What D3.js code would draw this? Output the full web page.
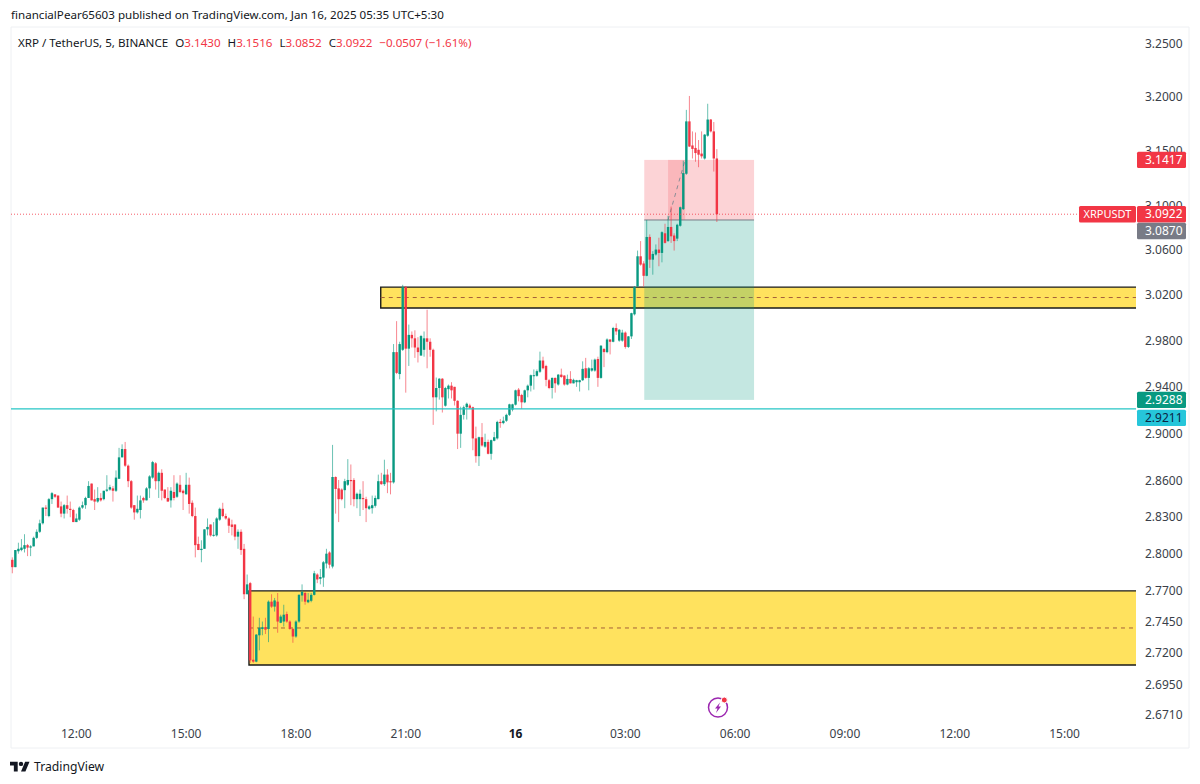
<!DOCTYPE html>
<html>
<head>
<meta charset="utf-8">
<script src="https://cdn.jsdelivr.net/npm/d3@7"></script>
<style>
  html, body { margin: 0; padding: 0; background: #fff; }
  svg { display: block; font-family: "Noto Sans", sans-serif; }
</style>
</head>
<body>
<svg width="1200" height="784"></svg>
<script>
// 5 minute bars, first one is Jan 15 10:15 (UTC+5:30 shown as is)
const firstBar = "2025-01-15T10:15:00";

const opens = [
  2.795,2.789,2.802,2.803,2.804,2.807,2.805,2.806,2.813,2.818,2.825,2.838,2.831,2.845,2.849,2.848,2.839,2.833,2.840,2.837,
  2.836,2.826,2.828,2.838,2.840,2.846,2.858,2.845,2.843,2.846,2.845,2.852,2.853,2.854,2.852,2.862,2.880,2.887,2.873,2.860,
  2.840,2.834,2.836,2.846,2.844,2.854,2.863,2.875,2.860,2.867,2.853,2.846,2.844,2.851,2.847,2.857,2.852,2.849,2.857,2.842,
  2.831,2.808,2.803,2.804,2.820,2.824,2.815,2.815,2.828,2.837,2.831,2.829,2.824,2.824,2.814,2.818,2.804,2.767,2.776,2.7145,
  2.713,2.734,2.739,2.7405,2.739,2.761,2.757,2.761,2.744,2.745,2.751,2.745,2.739,2.733,2.745,2.766,2.768,2.7605,2.7617,2.7665,
  2.783,2.7795,2.7805,2.792,2.801,2.7895,2.8635,2.854,2.853,2.8525,2.857,2.861,2.861,2.845,2.845,2.846,2.845,2.837,2.8375,2.8395,
  2.845,2.860,2.8575,2.8655,2.860,2.859,2.970,2.951,2.972,3.027,2.973,2.985,2.982,2.974,2.967,2.972,2.982,2.979,2.972,2.931,
  2.939,2.947,2.9238,2.938,2.941,2.940,2.928,2.900,2.916,2.9225,2.924,2.9225,2.896,2.881,2.897,2.889,2.893,2.883,2.894,2.896,
  2.910,2.909,2.911,2.916,2.9205,2.9247,2.9376,2.933,2.9267,2.937,2.941,2.9495,2.9495,2.953,2.9627,2.958,2.9457,2.939,2.9477,2.942,
  2.9505,2.9497,2.942,2.9468,2.943,2.944,2.944,2.9457,2.956,2.9477,2.954,2.954,2.964,2.9477,2.9727,2.970,2.981,2.979,2.991,2.980,
  2.980,2.987,2.9745,2.9837,3.003,3.0276,3.0544,3.048,3.037,3.0717,3.0514,3.056,3.0604,3.0574,3.075,3.068,3.0807,3.073,3.0702,3.0818,
  3.0968,3.129,3.1773,3.155,3.1527,3.151,3.1475,3.143,3.164,3.179,3.168,3.143
];
const highs = [
  2.797,2.803,2.809,2.812,2.816,2.808,2.807,2.814,2.820,2.828,2.838,2.840,2.846,2.851,2.849,2.848,2.843,2.841,2.848,2.843,
  2.837,2.833,2.839,2.843,2.847,2.860,2.858,2.853,2.855,2.850,2.852,2.865,2.857,2.856,2.869,2.888,2.891,2.893,2.874,2.861,
  2.840,2.848,2.848,2.847,2.855,2.865,2.877,2.876,2.868,2.870,2.853,2.855,2.855,2.865,2.859,2.865,2.853,2.867,2.863,2.844,
  2.838,2.814,2.811,2.820,2.829,2.824,2.826,2.830,2.838,2.842,2.833,2.830,2.828,2.824,2.820,2.820,2.808,2.783,2.777,2.749,
  2.735,2.748,2.745,2.748,2.762,2.767,2.764,2.768,2.7505,2.7585,2.753,2.746,2.7398,2.746,2.767,2.775,2.769,2.768,2.768,2.786,
  2.784,2.7875,2.794,2.804,2.802,2.8905,2.864,2.861,2.854,2.862,2.8785,2.874,2.8625,2.8505,2.853,2.860,2.847,2.840,2.848,2.848,
  2.8655,2.867,2.878,2.870,2.867,2.977,2.997,2.979,3.029,3.028,2.994,2.988,2.989,2.983,2.985,2.988,3.007,2.982,2.973,2.948,
  2.9475,2.9475,2.940,2.942,2.944,2.940,2.9285,2.923,2.924,2.9265,2.9255,2.923,2.906,2.8975,2.909,2.900,2.895,2.895,2.9015,2.911,
  2.9125,2.9145,2.917,2.9255,2.9255,2.9376,2.939,2.934,2.9376,2.942,2.9506,2.955,2.955,2.9704,2.966,2.959,2.9468,2.948,2.948,2.951,
  2.9557,2.950,2.9505,2.9535,2.947,2.946,2.946,2.962,2.965,2.957,2.9635,2.9644,2.966,2.976,2.9736,2.982,2.981,2.992,2.995,2.990,
  2.9895,2.988,2.984,3.0044,3.028,3.0595,3.068,3.05,3.087,3.074,3.059,3.065,3.071,3.0768,3.0836,3.0908,3.0991,3.075,3.0836,3.0991,
  3.141,3.188,3.201,3.168,3.167,3.16,3.168,3.1656,3.1937,3.1795,3.1767,3.1516
];
const lows = [
  2.784,2.789,2.800,2.802,2.801,2.798,2.798,2.806,2.812,2.817,2.824,2.831,2.830,2.841,2.846,2.838,2.830,2.829,2.833,2.830,
  2.826,2.826,2.827,2.837,2.837,2.846,2.844,2.836,2.842,2.843,2.844,2.851,2.852,2.843,2.851,2.862,2.880,2.872,2.855,2.837,
  2.828,2.833,2.829,2.842,2.844,2.846,2.862,2.853,2.846,2.844,2.845,2.843,2.838,2.844,2.846,2.850,2.836,2.849,2.833,2.830,
  2.797,2.803,2.793,2.804,2.815,2.814,2.814,2.814,2.827,2.830,2.828,2.817,2.815,2.811,2.804,2.799,2.763,2.767,2.712,2.712,
  2.7125,2.722,2.734,2.735,2.7285,2.756,2.753,2.736,2.7437,2.741,2.744,2.7385,2.728,2.732,2.744,2.761,2.7585,2.7598,2.7605,2.766,
  2.776,2.775,2.773,2.788,2.788,2.788,2.833,2.826,2.844,2.8375,2.856,2.840,2.839,2.8375,2.831,2.836,2.826,2.836,2.833,2.838,
  2.845,2.857,2.856,2.850,2.849,2.858,2.951,2.9465,2.971,2.935,2.958,2.974,2.965,2.961,2.967,2.966,2.956,2.966,2.9075,2.919,
  2.929,2.918,2.923,2.930,2.930,2.924,2.887,2.888,2.912,2.912,2.921,2.886,2.8755,2.8727,2.889,2.888,2.8825,2.878,2.8935,2.895,
  2.905,2.908,2.910,2.915,2.919,2.924,2.9275,2.921,2.926,2.931,2.936,2.9376,2.9487,2.952,2.955,2.9405,2.938,2.930,2.935,2.941,
  2.9477,2.941,2.9413,2.943,2.943,2.940,2.936,2.945,2.947,2.937,2.953,2.953,2.940,2.947,2.957,2.969,2.968,2.9785,2.985,2.979,
  2.979,2.973,2.9736,2.9814,3.002,3.027,3.046,3.0276,3.0366,3.044,3.038,3.055,3.0455,3.049,3.0658,3.0673,3.0664,3.0595,3.068,3.081,
  3.096,3.128,3.1536,3.143,3.14,3.135,3.143,3.142,3.163,3.167,3.131,3.0852
];
const closes = [
  2.789,2.803,2.804,2.805,2.807,2.805,2.806,2.813,2.818,2.825,2.838,2.837,2.845,2.850,2.847,2.838,2.833,2.840,2.837,2.836,
  2.826,2.829,2.838,2.840,2.846,2.856,2.844,2.843,2.846,2.844,2.852,2.853,2.855,2.852,2.863,2.880,2.887,2.873,2.860,2.838,
  2.834,2.837,2.844,2.844,2.854,2.864,2.876,2.860,2.867,2.852,2.846,2.843,2.852,2.846,2.858,2.851,2.850,2.857,2.841,2.831,
  2.807,2.803,2.804,2.820,2.822,2.815,2.8155,2.829,2.837,2.831,2.829,2.823,2.822,2.814,2.818,2.803,2.767,2.775,2.714,2.713,
  2.7345,2.740,2.7405,2.7385,2.761,2.757,2.762,2.745,2.749,2.7505,2.745,2.739,2.733,2.745,2.7665,2.769,2.761,2.7625,2.7665,2.784,
  2.779,2.781,2.793,2.800,2.791,2.8635,2.8535,2.845,2.845,2.860,2.861,2.860,2.845,2.8495,2.8495,2.845,2.8375,2.839,2.840,2.846,
  2.860,2.8575,2.8655,2.859,2.859,2.970,2.952,2.977,3.027,2.973,2.985,2.982,2.974,2.970,2.984,2.982,2.979,2.972,2.931,2.939,
  2.947,2.931,2.939,2.941,2.937,2.928,2.900,2.916,2.9225,2.9255,2.922,2.896,2.881,2.897,2.890,2.893,2.883,2.8945,2.897,2.910,
  2.909,2.911,2.916,2.925,2.925,2.937,2.932,2.9267,2.937,2.941,2.950,2.950,2.9535,2.9627,2.956,2.946,2.939,2.9477,2.943,2.9505,
  2.9485,2.942,2.9468,2.943,2.946,2.9457,2.9457,2.9555,2.9477,2.956,2.956,2.9635,2.9477,2.9756,2.970,2.981,2.979,2.991,2.988,2.9895,
  2.987,2.9745,2.9837,3.004,3.027,3.0544,3.047,3.037,3.0717,3.0514,3.0565,3.0604,3.0574,3.076,3.0664,3.0807,3.0723,3.068,3.0827,3.0985,
  3.1296,3.1773,3.154,3.1518,3.148,3.1465,3.145,3.165,3.179,3.168,3.143,3.0922
];

const priceTicks = [3.25, 3.2, 3.15, 3.1, 3.06, 3.02, 2.98, 2.94, 2.9, 2.86, 2.83, 2.8, 2.77, 2.745, 2.72, 2.695, 2.671];
const timeTicks = ["2025-01-15T12:00", "2025-01-15T15:00", "2025-01-15T18:00", "2025-01-15T21:00", "2025-01-16T00:00",
  "2025-01-16T03:00", "2025-01-16T06:00", "2025-01-16T09:00", "2025-01-16T12:00", "2025-01-16T15:00"];

// drawn rectangles: [start time, top price, bottom price]
const zoneStarts = ["2025-01-15T20:19", "2025-01-15T16:43"];
const zoneTops = [3.027, 2.7697];
const zoneBottoms = [3.0086, 2.7103];

const positionStart = "2025-01-16T03:31";
const positionEnd = "2025-01-16T06:31";
const activeStart = "2025-01-16T04:10";
const activeEnd = "2025-01-16T04:38";
const stopPrice = 3.1417;
const entryPrice = 3.087;
const targetPrice = 2.9288;
const lastPrice = 3.0922;
const linePrice = 2.9211;

const legendParts = [["XRP / TetherUS, 5, BINANCE", "#131722"], ["O", "#131722"], ["3.1430", "#f23645"], ["H", "#131722"], ["3.1516", "#f23645"],
  ["L", "#131722"], ["3.0852", "#f23645"], ["C", "#131722"], ["3.0922", "#f23645"], ["\u22120.0507 (\u22121.61%)", "#f23645"]];

const GREEN = "#089981", RED = "#f23645";
const svg = d3.select("svg");
const plotLeft = 11, plotRight = 1136, plotTop = 27, plotBottom = 748;

const parse = s => new Date(s);
const barTime = i => new Date(parse(firstBar).getTime() + i * 300000);

// 109.9px per 3h, first bar at x=12.3
const x = d3.scaleTime()
  .domain([parse(firstBar), barTime(231)])
  .range([12.3, 12.3 + 231 * 3.05]);
// the price axis is logarithmic
const y = d3.scaleLog()
  .domain([3.25, 2.671])
  .range([44, 715]);

// frame
svg.append("path")
  .attr("d", `M${plotLeft},${plotTop}V${plotBottom}H1189V${plotTop}H${plotLeft}`)
  .attr("fill", "none").attr("stroke", "#eef0f3");

// zones sit behind the candles
const zones = svg.append("g").selectAll("g")
  .data(zoneStarts.map((s, i) => ({ start: parse(s), top: zoneTops[i], bottom: zoneBottoms[i] })))
  .enter().append("g");
zones.append("rect")
  .attr("x", d => x(d.start))
  .attr("y", d => y(d.top))
  .attr("width", d => plotRight - x(d.start))
  .attr("height", d => y(d.bottom) - y(d.top))
  .attr("fill", "#ffe25e");
zones.append("path")
  .attr("d", d => `M${plotRight},${y(d.top)}H${x(d.start)}V${y(d.bottom)}H${plotRight}`)
  .attr("fill", "none").attr("stroke", "#1a1a1a").attr("stroke-width", 1.4);
zones.append("line")
  .attr("x1", d => x(d.start)).attr("x2", plotRight)
  .attr("y1", d => (y(d.top) + y(d.bottom)) / 2)
  .attr("y2", d => (y(d.top) + y(d.bottom)) / 2)
  .attr("stroke", "#a5603a").attr("stroke-width", 1).attr("stroke-dasharray", "4,4");

// short position box
const pos = svg.append("g");
const px0 = x(parse(positionStart)), px1 = x(parse(positionEnd));
pos.append("rect").attr("x", px0).attr("width", px1 - px0)
  .attr("y", y(stopPrice)).attr("height", y(entryPrice) - y(stopPrice))
  .attr("fill", RED).attr("fill-opacity", 0.22);
pos.append("rect").attr("x", px0).attr("width", px1 - px0)
  .attr("y", y(entryPrice)).attr("height", y(targetPrice) - y(entryPrice))
  .attr("fill", GREEN).attr("fill-opacity", 0.24);
const ax0 = x(parse(activeStart)), ax1 = x(parse(activeEnd));
pos.append("rect").attr("x", ax0).attr("width", ax1 - ax0)
  .attr("y", y(stopPrice)).attr("height", y(entryPrice) - y(stopPrice))
  .attr("fill", RED).attr("fill-opacity", 0.18);
pos.append("line")
  .attr("x1", ax0).attr("y1", y(entryPrice)).attr("x2", ax1).attr("y2", y(stopPrice))
  .attr("stroke", "#8a8d96").attr("stroke-dasharray", "4,4");
pos.append("line")
  .attr("x1", px0).attr("x2", px1).attr("y1", y(entryPrice)).attr("y2", y(entryPrice))
  .attr("stroke", "#787b86").attr("stroke-width", 1);

// candles
const bars = d3.range(opens.length).map(i => ({
  t: barTime(i), o: opens[i], h: highs[i], l: lows[i], c: closes[i]
}));
const candle = svg.append("g").selectAll("g").data(bars).enter().append("g");
candle.append("line")
  .attr("x1", d => x(d.t)).attr("x2", d => x(d.t))
  .attr("y1", d => y(d.h)).attr("y2", d => y(d.l))
  .attr("stroke", d => d.c >= d.o ? GREEN : RED)
  .attr("stroke-width", 1)
  .attr("stroke-opacity", 0.6);
candle.append("rect")
  .attr("x", d => x(d.t) - 1.2)
  .attr("width", 2.4)
  .attr("y", d => y(Math.max(d.o, d.c)))
  .attr("height", d => Math.max(1, Math.abs(y(d.o) - y(d.c))))
  .attr("fill", d => d.c >= d.o ? GREEN : RED);

// price lines
svg.append("line")
  .attr("x1", plotLeft).attr("x2", plotRight)
  .attr("y1", y(linePrice)).attr("y2", y(linePrice))
  .attr("stroke", "#26c6c6").attr("stroke-width", 1.2);
svg.append("line")
  .attr("x1", plotLeft).attr("x2", plotRight)
  .attr("y1", y(lastPrice)).attr("y2", y(lastPrice))
  .attr("stroke", RED).attr("stroke-width", 1).attr("stroke-dasharray", "1,2").attr("stroke-opacity", 0.8);

// price axis
svg.append("g").selectAll("text").data(priceTicks).enter().append("text")
  .attr("x", 1145).attr("y", d => y(d)).attr("dy", "0.35em")
  .attr("font-size", 12).attr("fill", "#3b3f4a")
  .text(d => d3.format(".4f")(d));

// time axis
svg.append("g").selectAll("text").data(timeTicks).enter().append("text")
  .attr("x", d => x(parse(d))).attr("y", 738)
  .attr("text-anchor", "middle").attr("font-size", 12)
  .attr("fill", d => parse(d).getHours() === 0 ? "#131722" : "#3b3f4a")
  .attr("font-weight", d => parse(d).getHours() === 0 ? 700 : 400)
  .text(d => parse(d).getHours() === 0 ? d3.timeFormat("%-d")(parse(d)) : d3.timeFormat("%H:%M")(parse(d)));

// price labels, the two that would collide are pushed down like on the original
const priceLabels = [
  { p: stopPrice, fill: RED, color: "#fff" },
  { p: lastPrice, fill: RED, color: "#fff" },
  { p: entryPrice, fill: "#787b86", color: "#fff", dy: 11 },
  { p: targetPrice, fill: GREEN, color: "#fff" },
  { p: linePrice, fill: "#26c6da", color: "#0b2545", dy: 9 }
];
const labelG = svg.append("g").selectAll("g").data(priceLabels).enter().append("g")
  .attr("transform", d => `translate(1137,${y(d.p) + (d.dy || 0)})`);
labelG.append("rect").attr("x", 0).attr("y", -8.2).attr("width", 49).attr("height", 16.4).attr("rx", 1.5)
  .attr("fill", d => d.fill);
labelG.append("text").attr("x", 8).attr("dy", "0.35em").attr("font-size", 12).attr("fill", d => d.color)
  .text(d => d3.format(".4f")(d.p));

svg.append("rect").attr("x", 1079).attr("y", y(lastPrice) - 8.2).attr("width", 57).attr("height", 16.4).attr("rx", 1.5).attr("fill", RED);
svg.append("text").attr("x", 1107.5).attr("y", y(lastPrice)).attr("dy", "0.35em")
  .attr("text-anchor", "middle").attr("font-size", 11).attr("fill", "#fff").text("XRPUSDT");

// header + legend
svg.append("text").attr("x", 11).attr("y", 19).attr("font-size", 11.6).attr("fill", "#131722")
  .text("financialPear65603 published on TradingView.com, Jan 16, 2025 05:35 UTC+5:30");

const legend = svg.append("text").attr("x", 18).attr("y", 47).attr("font-size", 11.6);
legendParts.forEach((part, i) => {
  legend.append("tspan")
    .attr("dx", i === 1 || i === 3 || i === 5 || i === 7 || i === 9 ? 7 : 0)
    .attr("fill", part[1])
    .text(part[0]);
});

// lightning badge
const badge = svg.append("g").attr("transform", "translate(718,707.5)");
badge.append("circle").attr("r", 9.5).attr("fill", "none").attr("stroke", "#9c27b0").attr("stroke-width", 1.5);
badge.append("path").attr("d", "M2,-5 L-3,1 L-0.5,1 L-2,5.5 L3,-1 L0.5,-1 Z").attr("fill", "#9c27b0");
badge.append("circle").attr("cx", 6.3).attr("cy", -7.5).attr("r", 3).attr("fill", RED).attr("stroke", "#fff");

// TradingView logo
svg.append("path").attr("transform", "translate(10,759.5) scale(0.55)")
  .attr("d", "M14 22H7V11H0V4h14v18zM28 22h-8l7.5-18h8L28 22z").attr("fill", "#131722");
svg.append("circle").attr("cx", 21).attr("cy", 763.9).attr("r", 2.2).attr("fill", "#131722");
svg.append("text").attr("x", 34).attr("y", 771).attr("font-size", 12.2).attr("fill", "#131722").text("TradingView");
</script>
</body>
</html>
